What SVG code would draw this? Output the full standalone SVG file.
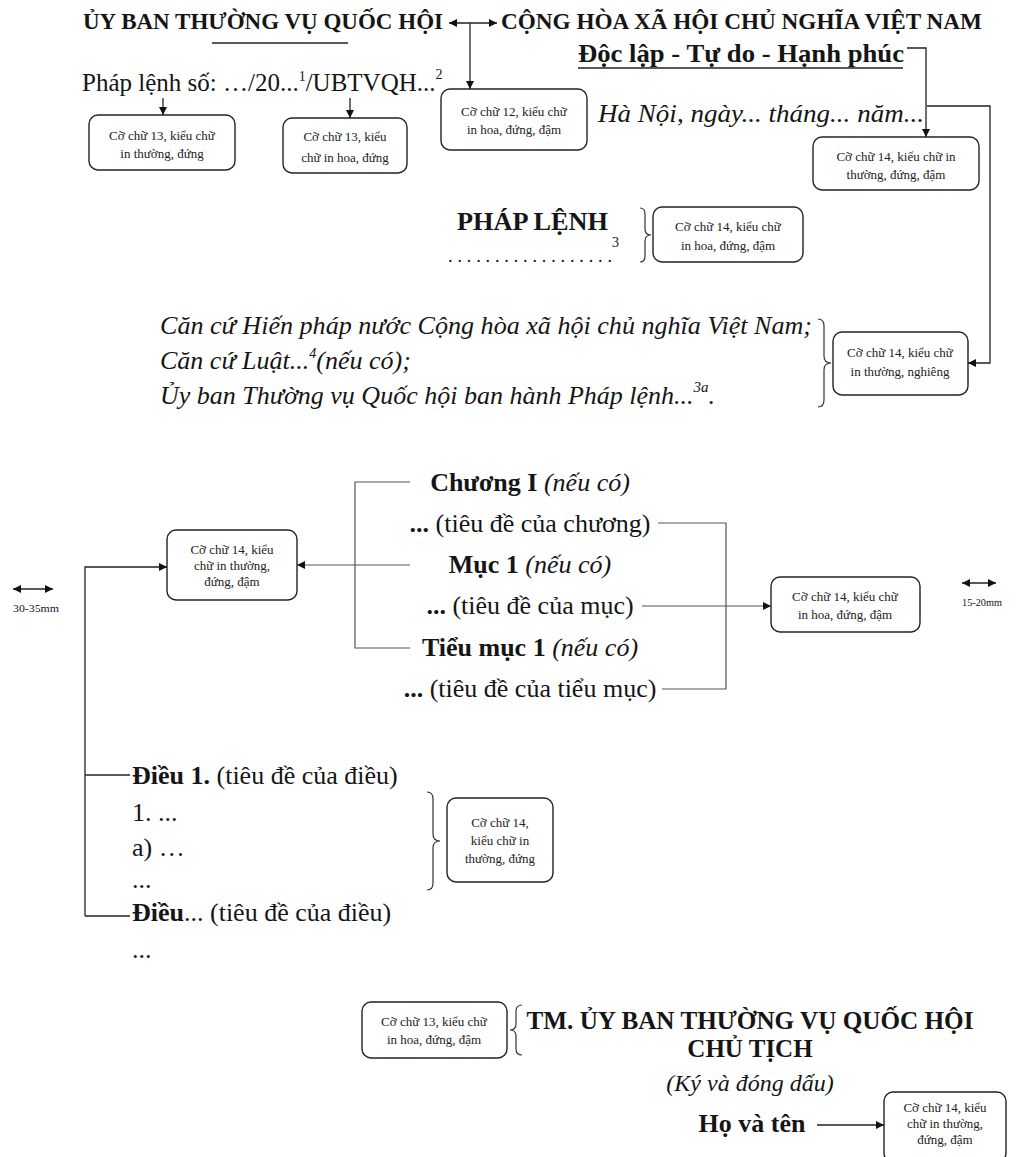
<svg xmlns="http://www.w3.org/2000/svg" width="1032" height="1157" viewBox="0 0 1032 1157">
<style>
text{font-family:"Liberation Serif","Times New Roman",serif;fill:#151515}
.b{font-weight:bold}
.i{font-style:italic}
.bx{fill:#fff;stroke:#222;stroke-width:1.4}
.bt{font-size:13px;text-anchor:middle;fill:#222}
.ln{fill:none;stroke:#222;stroke-width:1.3}
.lg{fill:none;stroke:#555;stroke-width:1.2}
.br{fill:none;stroke:#333;stroke-width:1.2}
.m{text-anchor:middle}
</style>
<defs>
<marker id="ah" viewBox="0 0 10 10" refX="10" refY="5" markerWidth="9" markerHeight="8" markerUnits="userSpaceOnUse" orient="auto-start-reverse"><path d="M0,0 L10,5 L0,10 z" fill="#111"/></marker>
</defs>
<rect width="1032" height="1157" fill="#fff"/>

<g id="header">
<text class="b" x="83" y="29" font-size="23" textLength="360" lengthAdjust="spacingAndGlyphs">ỦY BAN THƯỜNG VỤ QUỐC HỘI</text>
<line class="ln" x1="212" y1="43" x2="348" y2="43"/>
<text class="b" x="501" y="29" font-size="23" textLength="481" lengthAdjust="spacingAndGlyphs">CỘNG HÒA XÃ HỘI CHỦ NGHĨA VIỆT NAM</text>
<text class="b" x="578" y="62" font-size="26" textLength="326" lengthAdjust="spacingAndGlyphs">Độc lập - Tự do - Hạnh phúc</text>
<line class="ln" x1="578" y1="68" x2="903" y2="68"/>
<text x="82" y="91" font-size="25">Pháp lệnh số: …/20...<tspan dy="-10" font-size="14">1</tspan><tspan dy="10">/UBTVQH...</tspan><tspan dy="-12" font-size="14">2</tspan></text>
<text class="i" x="598" y="122" font-size="26" textLength="326" lengthAdjust="spacingAndGlyphs">Hà Nội, ngày... tháng... năm...</text>
</g>

<g id="box1"><rect class="bx" x="89" y="115" width="146" height="55" rx="9"/><text class="bt" x="162" y="140">Cỡ chữ 13, kiểu chữ</text><text class="bt" x="162" y="158">in thường, đứng</text></g>
<g id="box2"><rect class="bx" x="283" y="118" width="124" height="55" rx="9"/><text class="bt" x="345" y="141">Cỡ chữ 13, kiểu</text><text class="bt" x="345" y="162">chữ in hoa, đứng</text></g>
<g id="box3"><rect class="bx" x="441" y="89" width="146" height="61" rx="9"/><text class="bt" x="514" y="116">Cỡ chữ 12, kiểu chữ</text><text class="bt" x="514" y="134">in hoa, đứng, đậm</text></g>
<g id="box4"><rect class="bx" x="813" y="137" width="166" height="53" rx="9"/><text class="bt" x="896" y="161">Cỡ chữ 14, kiểu chữ in</text><text class="bt" x="896" y="179">thường, đứng, đậm</text></g>

<g id="title">
<text class="b" x="457" y="230" font-size="26" textLength="151" lengthAdjust="spacingAndGlyphs">PHÁP LỆNH</text>
<text x="612" y="247" font-size="14">3</text>
<text x="448" y="262" font-size="18" textLength="164" lengthAdjust="spacing">..................</text>
<path class="br" d="M640,208 Q645,208 645,214 L645,229 Q645,235 651,235 Q645,235 645,241 L645,256 Q645,262 640,262"/>
</g>
<g id="box5"><rect class="bx" x="653" y="207" width="150" height="55" rx="9"/><text class="bt" x="728" y="231">Cỡ chữ 14, kiểu chữ</text><text class="bt" x="728" y="250">in hoa, đứng, đậm</text></g>

<g id="cancu">
<text class="i" x="160" y="334" font-size="26" textLength="652" lengthAdjust="spacingAndGlyphs">Căn cứ Hiến pháp nước Cộng hòa xã hội chủ nghĩa Việt Nam;</text>
<text class="i" x="160" y="369" font-size="26">Căn cứ Luật...<tspan dy="-11" font-size="14">4</tspan><tspan dy="11">(nếu có);</tspan></text>
<text class="i" x="160" y="404" font-size="26">Ủy ban Thường vụ Quốc hội ban hành Pháp lệnh...<tspan dy="-12" font-size="15">3a</tspan><tspan dy="12">.</tspan></text>
<path class="br" d="M818,319 Q824,319 824,326 L824,356 Q824,363 831,363 Q824,363 824,370 L824,400 Q824,407 818,407"/>
</g>
<g id="box6"><rect class="bx" x="833" y="332" width="135" height="63" rx="9"/><text class="bt" x="900" y="357">Cỡ chữ 14, kiểu chữ</text><text class="bt" x="900" y="376">in thường, nghiêng</text></g>

<g id="chapter">
<text class="m" x="530" y="491" font-size="26"><tspan class="b">Chương I </tspan><tspan class="i">(nếu có)</tspan></text>
<text class="m" x="530" y="532" font-size="26"><tspan class="b">...</tspan> (tiêu đề của chương)</text>
<text class="m" x="530" y="573" font-size="26"><tspan class="b">Mục 1 </tspan><tspan class="i">(nếu có)</tspan></text>
<text class="m" x="530" y="614" font-size="26"><tspan class="b">...</tspan> (tiêu đề của mục)</text>
<text class="m" x="530" y="656" font-size="26"><tspan class="b">Tiểu mục 1 </tspan><tspan class="i">(nếu có)</tspan></text>
<text class="m" x="530" y="697" font-size="26"><tspan class="b">...</tspan> (tiêu đề của tiểu mục)</text>
</g>
<g id="box7"><rect class="bx" x="167" y="530" width="130" height="70" rx="9"/><text class="bt" x="232" y="554">Cỡ chữ 14, kiểu</text><text class="bt" x="232" y="570">chữ in thường,</text><text class="bt" x="232" y="586">đứng, đậm</text></g>
<g id="box8"><rect class="bx" x="771" y="577" width="149" height="55" rx="9"/><text class="bt" x="845" y="601">Cỡ chữ 14, kiểu chữ</text><text class="bt" x="845" y="619">in hoa, đứng, đậm</text></g>

<g id="margins">
<text x="13" y="612" font-size="11" textLength="46" lengthAdjust="spacingAndGlyphs">30-35mm</text>
<text x="962" y="606" font-size="11" textLength="40" lengthAdjust="spacingAndGlyphs">15-20mm</text>
</g>

<g id="articles">
<text x="132" y="784" font-size="26"><tspan class="b">Điều 1.</tspan> (tiêu đề của điều)</text>
<text x="132" y="821" font-size="26">1. ...</text>
<text x="132" y="856" font-size="26">a) …</text>
<text x="132" y="888" font-size="26">...</text>
<text x="132" y="921" font-size="26"><tspan class="b">Điều</tspan>... (tiêu đề của điều)</text>
<text x="132" y="958" font-size="26">...</text>
<path class="br" d="M427,792 Q433,792 433,799 L433,834 Q433,841 440,841 Q433,841 433,848 L433,883 Q433,890 427,890"/>
</g>
<g id="box9"><rect class="bx" x="447" y="798" width="106" height="84" rx="9"/><text class="bt" x="500" y="827">Cỡ chữ 14,</text><text class="bt" x="500" y="845">kiểu chữ in</text><text class="bt" x="500" y="863">thường, đứng</text></g>

<g id="signature">
<text class="b m" x="750" y="1029" font-size="25" textLength="447" lengthAdjust="spacingAndGlyphs">TM. ỦY BAN THƯỜNG VỤ QUỐC HỘI</text>
<text class="b m" x="750" y="1057" font-size="25">CHỦ TỊCH</text>
<text class="i m" x="750" y="1091" font-size="24">(Ký và đóng dấu)</text>
<text class="b m" x="752" y="1132" font-size="26">Họ và tên</text>
<path class="br" d="M522,1005 Q516,1005 516,1011 L516,1024 Q516,1030 510,1030 Q516,1030 516,1036 L516,1049 Q516,1055 522,1055"/>
</g>
<g id="box10"><rect class="bx" x="362" y="1002" width="145" height="56" rx="9"/><text class="bt" x="434" y="1026">Cỡ chữ 13, kiểu chữ</text><text class="bt" x="434" y="1044">in hoa, đứng, đậm</text></g>
<g id="box11"><rect class="bx" x="884" y="1092" width="122" height="70" rx="9"/><text class="bt" x="945" y="1112">Cỡ chữ 14, kiểu</text><text class="bt" x="945" y="1128">chữ in thường,</text><text class="bt" x="945" y="1144">đứng, đậm</text></g>

<g id="connectors">
<line class="ln" x1="449" y1="23" x2="497" y2="23" marker-start="url(#ah)" marker-end="url(#ah)"/>
<line class="ln" x1="470" y1="23" x2="470" y2="89" marker-end="url(#ah)"/>
<line class="ln" x1="163" y1="98" x2="163" y2="115" marker-end="url(#ah)"/>
<line class="ln" x1="350" y1="98" x2="350" y2="118" marker-end="url(#ah)"/>
<polyline class="ln" points="907,48 926,48 926,137" marker-end="url(#ah)"/>
<polyline class="ln" points="927,106 990,106 990,363 968,363" marker-end="url(#ah)"/>
<polyline class="lg" points="410,482 355,482 355,648 410,648"/>
<line class="lg" x1="410" y1="565" x2="297" y2="565" marker-end="url(#ah)"/>
<polyline class="lg" points="658,523 726,523 726,689 662,689"/>
<line class="lg" x1="642" y1="606" x2="771" y2="606" marker-end="url(#ah)"/>
<polyline class="ln" points="85,916 85,567 167,567" marker-end="url(#ah)"/>
<line class="ln" x1="85" y1="775" x2="130" y2="775"/>
<line class="ln" x1="85" y1="916" x2="130" y2="916"/>
<line class="ln" x1="13" y1="589" x2="53" y2="589" marker-start="url(#ah)" marker-end="url(#ah)"/>
<line class="ln" x1="962" y1="583" x2="996" y2="583" marker-start="url(#ah)" marker-end="url(#ah)"/>
<line class="ln" x1="817" y1="1125" x2="884" y2="1125" marker-end="url(#ah)"/>
</g>
</svg>
